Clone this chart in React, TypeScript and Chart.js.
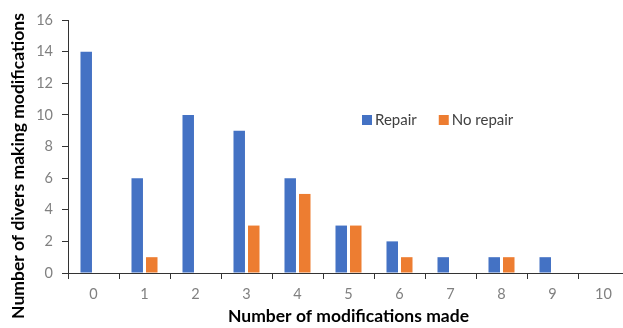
import React, { useEffect, useRef } from "react";
import { Chart, registerables } from "chart.js";

Chart.register(...registerables);

const categories = ["0", "1", "2", "3", "4", "5", "6", "7", "8", "9", "10"];
const repairValues = [14, 6, 10, 9, 6, 3, 2, 1, 1, 1, 0];
const noRepairValues = [0, 1, 0, 3, 5, 3, 1, 0, 1, 0, 0];
const seriesNames = ["Repair", "No repair"];
const seriesColors = ["#4472C4", "#ED7D31"];
const yTitle = "Number of divers making modifications";
const xTitle = "Number of modifications made";

const FONT = "Lato, 'Open Sans', sans-serif";

const legendPlugin = {
  id: "customLegend",
  afterDraw(chart: any) {
    const ctx = chart.ctx;
    ctx.save();
    ctx.font = `15px ${FONT}`;
    ctx.textBaseline = "middle";
    ctx.textAlign = "left";
    const y = 120;
    let x = 362;
    seriesNames.forEach((name, i) => {
      ctx.fillStyle = seriesColors[i];
      ctx.fillRect(x, y - 5, 10, 10);
      ctx.fillStyle = "#404040";
      ctx.fillText(name, x + 13, y);
      x += 13 + ctx.measureText(name).width + 22;
    });
    ctx.restore();
    // y-axis title, centred on the full figure height
    ctx.save();
    ctx.font = `bold 17.5px ${FONT}`;
    ctx.fillStyle = "#000";
    ctx.textAlign = "center";
    ctx.textBaseline = "middle";
    ctx.translate(18, 166);
    ctx.rotate(-Math.PI / 2);
    ctx.fillText(yTitle, 0, 0);
    ctx.restore();
  },
};

export default function App() {
  const ref = useRef<HTMLCanvasElement | null>(null);
  useEffect(() => {
    document.body.style.margin = "0";
    const chart = new Chart(ref.current!, {
      type: "bar",
      data: {
        labels: categories,
        datasets: [
          { label: seriesNames[0], data: repairValues, backgroundColor: seriesColors[0], borderWidth: 0 },
          { label: seriesNames[1], data: noRepairValues, backgroundColor: seriesColors[1], borderWidth: 0 },
        ],
      },
      options: {
        responsive: false,
        animation: false,
        devicePixelRatio: 1,
        layout: { padding: { top: 20, right: 11, left: 0, bottom: 0 } },
        datasets: { bar: { categoryPercentage: 0.57, barPercentage: 0.79 } },
        plugins: { legend: { display: false }, tooltip: { enabled: false } },
        scales: {
          x: {
            grid: { drawOnChartArea: false, drawTicks: true, tickLength: 6, color: "#333", offset: true },
            border: { display: true, color: "#333", width: 1 },
            ticks: { color: "#808080", font: { family: FONT, size: 14.5 }, padding: 7 },
            title: {
              display: true,
              text: xTitle,
              color: "#000",
              font: { family: FONT, size: 17.5, weight: "bold" },
              padding: { top: 0, bottom: 1.5 },
            },
            afterFit(scale: any) {
              scale.height = 55;
            },
          },
          y: {
            min: 0,
            max: 16,
            ticks: { stepSize: 2, color: "#808080", font: { family: FONT, size: 14.5 }, padding: 9 },
            grid: { drawOnChartArea: false, drawTicks: true, tickLength: 6, color: "#333" },
            border: { display: true, color: "#333", width: 1 },
            title: { display: false },
            afterFit(scale: any) {
              scale.width = 68;
            },
          },
        },
      },
      plugins: [legendPlugin],
    });
    return () => chart.destroy();
  }, []);
  return (
    <div style={{ position: "fixed", left: 0, top: 0, width: 623, height: 328, overflow: "hidden", background: "#fff" }}>
      <canvas ref={ref} width={640} height={328} style={{ display: "block" }} />
    </div>
  );
}
